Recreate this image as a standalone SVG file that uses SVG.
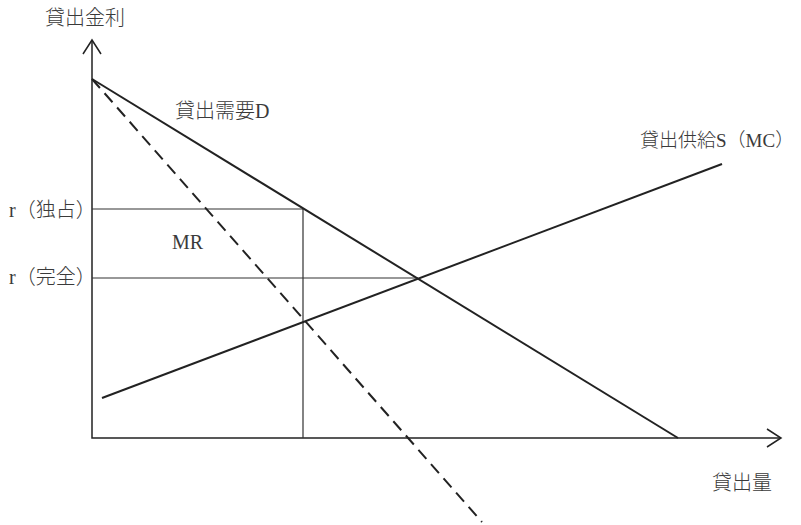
<svg xmlns="http://www.w3.org/2000/svg" width="801" height="525" viewBox="0 0 801 525">
<style>
.t{font-family:"Liberation Serif","Noto Sans CJK JP",serif;font-size:20px;font-weight:300;fill:#3a3a3a}
.ax{stroke:#222;stroke-width:1.5;fill:none}
.thin{stroke:#333;stroke-width:1.2;fill:none}
.crv{stroke:#222;stroke-width:2;fill:none}
</style>
<rect width="801" height="525" fill="#fff"/>
<g id="connectors">
<polyline class="ax" points="92,40 92,438 781,438"/>
<polyline class="ax" points="83,54 92,40 101,54"/>
<polyline class="ax" points="767,429 781,438 767,447"/>
<polyline class="thin" points="92,209 303,209 303,438"/>
<line class="thin" x1="92" y1="278" x2="418" y2="278"/>
<line class="crv" x1="92" y1="79" x2="678" y2="438"/>
<line class="crv" x1="102" y1="398" x2="722" y2="164"/>
<line class="crv" x1="92" y1="79" x2="482" y2="522" stroke-dasharray="12,7"/>
</g>
<g id="label-y"><text class="t" x="45" y="25">貸出金利</text></g>
<g id="label-x"><text class="t" x="712" y="490">貸出量</text></g>
<g id="label-D"><text class="t" x="175" y="118">貸出需要D</text></g>
<g id="label-S"><text class="t" x="640" y="147" style="font-size:19px">貸出供給S（MC）</text></g>
<g id="label-MR"><text class="t" x="172" y="249">MR</text></g>
<g id="label-r1"><text class="t" x="9" y="217">r（独占）</text></g>
<g id="label-r2"><text class="t" x="9" y="284">r（完全）</text></g>
</svg>
